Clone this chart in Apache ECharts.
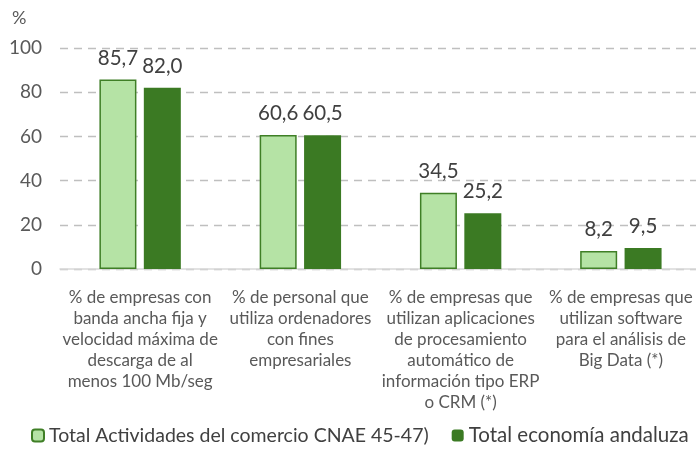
<!DOCTYPE html>
<html><head><meta charset="utf-8">
<script src="https://cdn.jsdelivr.net/npm/echarts@6/dist/echarts.min.js"></script>
<style>html,body{margin:0;padding:0;background:#fff;overflow:hidden;width:696px;height:453px}#c{width:712px;height:453px}</style>
</head><body><div id="c"></div>
<script>
const categories = [
  "% de empresas con\nbanda ancha fija y\nvelocidad máxima de\ndescarga de al\nmenos 100 Mb/seg",
  "% de personal que\nutiliza ordenadores\ncon fines\nempresariales",
  "% de empresas que\nutilizan aplicaciones\nde procesamiento\nautomático de\ninformación tipo ERP\no CRM (*)",
  "% de empresas que\nutilizan software\npara el análisis de\nBig Data (*)"
];
const seriesNames = ["Total Actividades del comercio CNAE 45-47)", "Total economía andaluza"];
const comercio = [85.7, 60.6, 34.5, 8.2];
const andalucia = [82.0, 60.5, 25.2, 9.5];
const yTicks = [0, 20, 40, 60, 80, 100];

const font = "Lato, 'Open Sans', sans-serif";
const chart = echarts.init(document.getElementById('c'));
const fmt = p => p.value.toFixed(1).replace('.', ',');
chart.setOption({
  animation: false,
  textStyle: {fontFamily: font},
  graphic: [{type: 'text', left: 12, top: 9, style: {text: '%', font: "18px Lato, sans-serif", fill: '#595959'}}],
  legend: {
    bottom: 2, left: 26, itemWidth: 12, itemHeight: 12, itemGap: 23,
    textStyle: {fontSize: 19.5, color: '#404040', fontFamily: font},
    data: [{name: seriesNames[0]}, {name: seriesNames[1], textStyle: {fontSize: 20.5}}]
  },
  grid: {left: 60, width: 641, top: 48, height: 221, containLabel: false},
  xAxis: {
    type: 'category', data: categories,
    axisLine: {lineStyle: {color: '#d9d9d9', width: 1.5}},
    axisTick: {show: false},
    axisLabel: {interval: 0, color: '#595959', fontSize: 17, lineHeight: 21, margin: 18, fontFamily: font}
  },
  yAxis: {
    type: 'value', min: yTicks[0], max: yTicks[yTicks.length - 1], interval: 20,
    axisLine: {show: false}, axisTick: {show: false},
    axisLabel: {color: '#595959', fontSize: 19, margin: 18, fontFamily: font},
    splitLine: {lineStyle: {color: '#bfbfbf', type: [8, 6], width: 1.3}}
  },
  series: [
    {name: seriesNames[0], type: 'bar', data: comercio, barWidth: 37, barGap: '20%',
     itemStyle: {color: '#b5e3a5', borderColor: '#3f7f26', borderWidth: 1.5},
     label: {show: true, position: 'top', distance: 11, formatter: fmt, color: '#404040', fontSize: 20.5, fontFamily: font}},
    {name: seriesNames[1], type: 'bar', data: andalucia, barWidth: 37,
     itemStyle: {color: '#3b7a23'},
     label: {show: true, position: 'top', distance: 11, formatter: fmt, color: '#404040', fontSize: 20.5, fontFamily: font}}
  ]
});
</script></body></html>
